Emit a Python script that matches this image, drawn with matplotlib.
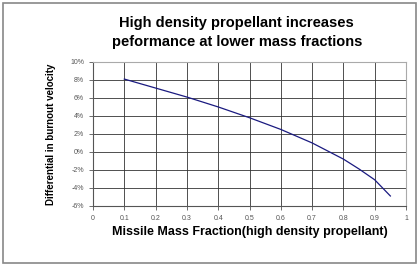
import matplotlib
matplotlib.use("Agg")
import matplotlib.pyplot as plt
from matplotlib.patches import Rectangle
from matplotlib.ticker import FuncFormatter

# data
mass_fraction = [0.1, 0.2, 0.3, 0.4, 0.5, 0.6, 0.7, 0.8, 0.85, 0.9, 0.95]
velocity_diff = [8.1, 7.1, 6.1, 5.0, 3.8, 2.5, 1.0, -0.8, -1.9, -3.1, -4.9]

x_ticks = [0, 0.1, 0.2, 0.3, 0.4, 0.5, 0.6, 0.7, 0.8, 0.9, 1]
y_ticks = [-6, -4, -2, 0, 2, 4, 6, 8, 10]

plt.rcParams['font.family'] = ['Liberation Sans', 'DejaVu Sans']

fig = plt.figure(figsize=(4.19, 2.66), dpi=100)
ax = fig.add_axes([0.222, 0.226, 0.747, 0.541])

ax.plot(mass_fraction, velocity_diff, color='#1a1a80', linewidth=0.9)

ax.set_xlim(0, 1)
ax.set_ylim(-6, 10)
ax.set_xticks(x_ticks)
ax.set_yticks(y_ticks)
ax.xaxis.set_major_formatter(FuncFormatter(lambda v, p: f"{v:g}"))
ax.yaxis.set_major_formatter(FuncFormatter(lambda v, p: f"{v:g}%"))
ax.tick_params(labelsize=5, colors='#555555', length=3, width=0.6, direction='out')
ax.grid(True, color='#333333', linewidth=0.6)
for s in ax.spines.values():
  s.set_color('#555555')
  s.set_linewidth(0.8)
ax.spines['top'].set_color('#aaaaaa')
ax.spines['right'].set_color('#aaaaaa')

ax.set_ylabel("Differential in burnout velocity", fontsize=7, fontweight='bold', labelpad=10)
ax.set_xlabel("Missile Mass Fraction(high density propellant)", fontsize=9, fontweight='bold', labelpad=3)

fig.text(0.565, 0.878, "High density propellant increases\npeformance at lower mass fractions",
         ha='center', va='center', fontsize=10.5, fontweight='bold', linespacing=1.4)

fig.patches.append(Rectangle((0.008, 0.012), 0.984, 0.978, transform=fig.transFigure,
                             fill=False, edgecolor='#888888', linewidth=1.2))

fig.savefig("out.png", dpi=100)
